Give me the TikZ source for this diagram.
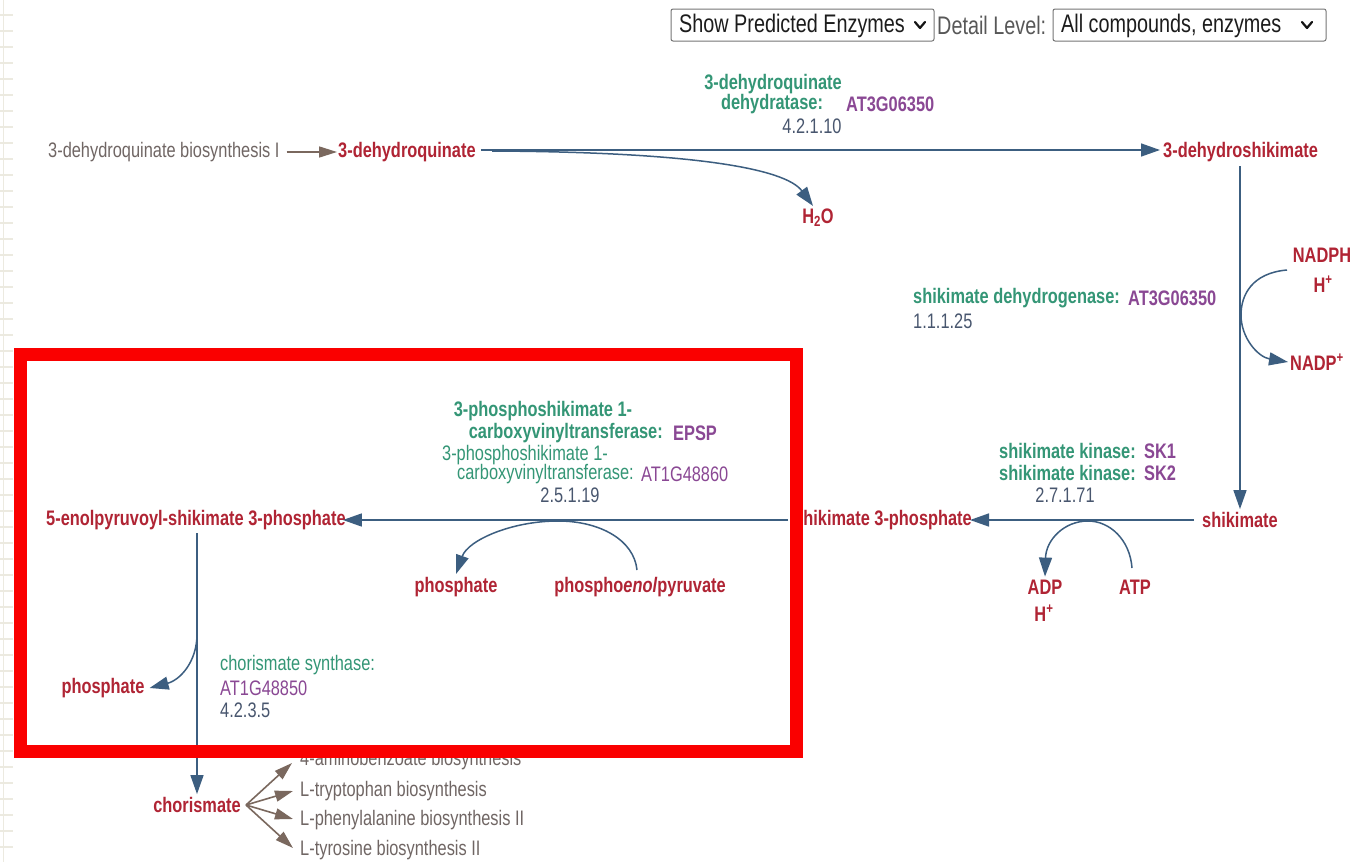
\documentclass[tikz,border=0pt]{standalone}
\usepackage{fontspec}
\setmainfont{Liberation Sans}[FakeStretch=0.78]
\usetikzlibrary{arrows.meta}

\definecolor{cpdred}{RGB}{176,36,52}
\definecolor{enzgreen}{RGB}{52,150,118}
\definecolor{genepurple}{RGB}{138,72,148}
\definecolor{ecgray}{RGB}{72,86,110}
\definecolor{rxnblue}{RGB}{60,94,128}
\definecolor{pwytext}{RGB}{112,102,100}
\definecolor{pwyline}{RGB}{122,104,94}
\definecolor{framered}{RGB}{250,0,0}
\definecolor{gridbeige}{RGB}{236,234,224}
\definecolor{ddborder}{RGB}{118,118,118}

\tikzset{
  txt/.style={inner sep=0pt, font=\fontsize{21}{24}\selectfont},
  cpd/.style={txt, text=cpdred, font=\fontsize{21}{24}\selectfont\bfseries},
  enzb/.style={txt, text=enzgreen, font=\fontsize{21}{24}\selectfont\bfseries},
  enzr/.style={txt, text=enzgreen},
  geneb/.style={txt, text=genepurple, font=\fontsize{21}{24}\selectfont\bfseries},
  gener/.style={txt, text=genepurple},
  ecnum/.style={txt, text=ecgray},
  pwy/.style={txt, text=pwytext},
  rxn/.style={draw=rxnblue, line width=1.5pt},
  rxnarr/.style={rxn, -{Triangle[length=19pt,width=13pt]}},
  pwyarr/.style={draw=pwyline, line width=1.6pt, -{Triangle[length=18pt,width=11pt]}},
  ddframe/.style={draw=ddborder, line width=1pt, rounded corners=2pt},
  ddtext/.style={inner sep=0pt, text={rgb,255:red,28;green,28;blue,28}, font=\fontsize{25.4}{28}\selectfont},
  chevron/.style={draw={rgb,255:red,20;green,20;blue,20}, line width=2.2pt, line cap=round, line join=round},
}

\begin{document}
\begin{tikzpicture}[x=1pt,y=-1pt]
\useasboundingbox (0,0) rectangle (1355,862);
\fill[white] (0,0) rectangle (1355,862);

% faint page ruler at the left edge
\draw[gridbeige, line width=1.3pt] (3.5,0) -- (3.5,862);
\foreach \yy in {15,31,...,862} \draw[gridbeige, line width=1.3pt] (0,\yy) -- (12.5,\yy);

% selection controls
\draw[ddframe] (671,9) rectangle (934,41);
\node[ddtext, anchor=west] (ddpred) at (679,25.5) {Show Predicted Enzymes};
\draw[chevron] (915,22) -- (920,28) -- (925,22);
\node[ddtext, anchor=west, text={rgb,255:red,88;green,88;blue,88}] (ddlabel) at (937,25.5) {Detail Level:};
\draw[ddframe] (1053,9) rectangle (1326,41);
\node[ddtext, anchor=west] (dddetail) at (1061,25.5) {All compounds, enzymes};
\draw[chevron] (1302,22) -- (1307,28) -- (1312,22);

% compounds
\node[pwy, anchor=west] (pwin) at (48,152) {3-dehydroquinate biosynthesis I};
\node[cpd, anchor=west] (dhq) at (338,152) {3-dehydroquinate};
\node[cpd, anchor=west] (dhs) at (1163,152) {3-dehydroshikimate};
\node[cpd] (h2o) at (818,218) {H\textsubscript{2}O};
\node[cpd] (nadph) at (1322,255) {NADPH};
\node[cpd] (hplus1) at (1323,284) {H\textsuperscript{+}};
\node[cpd, anchor=west] (nadp) at (1290,362) {NADP\textsuperscript{+}};
\node[cpd, anchor=west] (shk) at (1202,520) {shikimate};
\node[cpd, anchor=east] (s3p) at (972,520) {shikimate 3-phosphate};
\node[cpd] (adp) at (1045,587) {ADP};
\node[cpd] (hplus2) at (1044,613) {H\textsuperscript{+}};
\node[cpd] (atp) at (1135,587) {ATP};
\node[cpd, anchor=west] (epsp) at (46,520) {5-enolpyruvoyl-shikimate 3-phosphate};
\node[cpd] (pi1) at (456,587) {phosphate};
\node[cpd] (pep) at (640,587) {phospho\textit{enol}pyruvate};
\node[cpd] (pi2) at (103,688) {phosphate};
\node[cpd] (chor) at (197,805) {chorismate};

% enzymes
\node[enzb] (dhqd1) at (773,84) {3-dehydroquinate};
\node[enzb] (dhqd2) at (772,104) {dehydratase:};
\node[geneb, anchor=west] (dhqdg) at (846,104) {AT3G06350};
\node[ecnum] (dhqdec) at (812,126) {4.2.1.10};

\node[enzb, anchor=west] (sdh) at (913,298) {shikimate dehydrogenase:};
\node[geneb, anchor=west] (sdhg) at (1128,298) {AT3G06350};
\node[ecnum, anchor=west] (sdhec) at (913,321) {1.1.1.25};

\node[enzb, anchor=east] (sk1) at (1136,451) {shikimate kinase:};
\node[geneb, anchor=west] (sk1g) at (1144,451) {SK1};
\node[enzb, anchor=east] (sk2) at (1136,473) {shikimate kinase:};
\node[geneb, anchor=west] (sk2g) at (1144,473) {SK2};
\node[ecnum] (skec) at (1065,495) {2.7.1.71};

\node[enzb] (ep1) at (543,411) {3-phosphoshikimate 1-};
\node[enzb, anchor=east] (ep2) at (663,433) {carboxyvinyltransferase:};
\node[geneb, anchor=west] (ep2g) at (673,433) {EPSP};
\node[enzr] (ep3) at (525,455) {3-phosphoshikimate 1-};
\node[enzr, anchor=east] (ep4) at (634,474) {carboxyvinyltransferase:};
\node[gener, anchor=west] (ep4g) at (641,474) {AT1G48860};
\node[ecnum] (epec) at (570,495) {2.5.1.19};

\node[enzr, anchor=west] (cs) at (220,665) {chorismate synthase:};
\node[gener, anchor=west] (csg) at (220,688) {AT1G48850};
\node[ecnum, anchor=west] (csec) at (220,710) {4.2.3.5};

% downstream pathways
\node[pwy, anchor=west] (pwab) at (300,760) {4-aminobenzoate biosynthesis};
\node[pwy, anchor=west] (pwtrp) at (300,791) {L-tryptophan biosynthesis};
\node[pwy, anchor=west] (pwphe) at (300,820) {L-phenylalanine biosynthesis II};
\node[pwy, anchor=west] (pwtyr) at (300,850) {L-tyrosine biosynthesis II};

% reaction 4.2.1.10
\draw[pwyarr] ([xshift=7pt]pwin.east) -- ([xshift=-1pt]dhq.west);
\draw[rxnarr] ([xshift=5pt,yshift=2pt]dhq.east) -- ([xshift=-3pt,yshift=2pt]dhs.west);
\coordinate (dhqsplit) at (492,151);
\draw[rxnarr] (dhqsplit) .. controls (690,152) and (785,168) .. ([xshift=-5pt,yshift=3pt]h2o.north);

% reaction 1.1.1.25
\coordinate (dhsfoot) at (1240,166);
\draw[rxnarr] (dhsfoot) -- ([yshift=3pt]shk.north -| dhsfoot);
\coordinate (nadin) at (1287,270);
\draw[rxnarr] (nadin) .. controls (1252,273) and (1241,295) .. (1241,315)
  .. controls (1241,338) and (1258,357) .. ([xshift=-2pt]nadp.west);

% reaction 2.7.1.71
\draw[rxnarr] ([xshift=-8pt]shk.west) -- ([xshift=-2pt]s3p.east);
\coordinate (atpin) at (1132,568);
\draw[rxnarr] (atpin) .. controls (1130,540) and (1110,521) .. (1088,521)
  .. controls (1064,521) and (1046,540) .. ([yshift=3pt]adp.north);

% reaction 2.5.1.19
\coordinate (s3pstart) at (788,520);
\draw[rxnarr] (s3pstart) -- ([xshift=-3pt]epsp.east);
\coordinate (pepin) at (637,570);
\draw[rxnarr] (pepin) .. controls (634,540) and (600,521) .. (558,521)
  .. controls (512,521) and (468,540) .. ([yshift=3pt]pi1.north);

% reaction 4.2.3.5
\coordinate (epspfoot) at (197,533);
\draw[rxnarr] (epspfoot) -- ([yshift=3pt]chor.north);
\coordinate (pisplit) at (197,634);
\draw[rxnarr] (pisplit) .. controls (197,662) and (180,680) .. ([xshift=5pt]pi2.east);

% chorismate fan-out
\coordinate (chorfan) at (246,805);
\draw[pwyarr] (chorfan) -- (292,763);
\draw[pwyarr] (chorfan) -- ([xshift=-7pt]pwtrp.west);
\draw[pwyarr] (chorfan) -- ([xshift=-7pt,yshift=1pt]pwphe.west);
\draw[pwyarr] (chorfan) -- ([xshift=-7pt,yshift=2pt]pwtyr.west);

% highlight frame
\draw[framered, line width=13pt] (20.5,354) rectangle (796.5,751.5);
\end{tikzpicture}
\end{document}
